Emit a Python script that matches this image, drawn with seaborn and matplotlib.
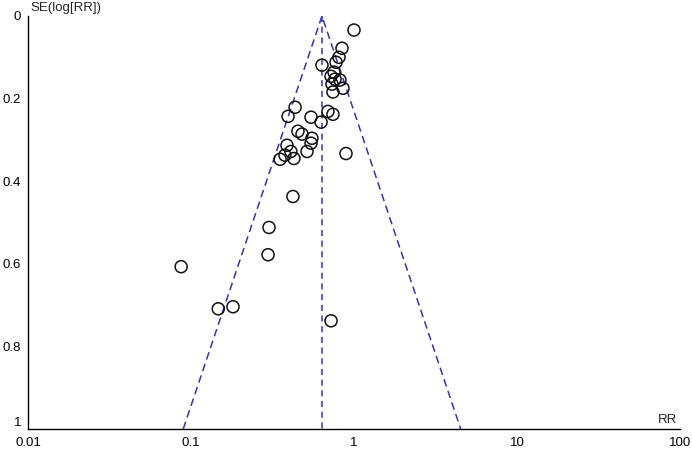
import numpy as np
import matplotlib
matplotlib.use("Agg")
import matplotlib.pyplot as plt
import seaborn as sns
from matplotlib.ticker import FixedLocator, FixedFormatter, NullLocator

sns.set_style("white")
plt.rcParams['font.family'] = ['Liberation Sans', 'DejaVu Sans']

# Study estimates (risk ratios) and standard errors of log(RR)
rr = [1.00, 0.844, 0.809, 0.776, 0.636, 0.754, 0.723, 0.765, 0.820, 0.733,
      0.856, 0.743, 0.435, 0.394, 0.545, 0.628, 0.692, 0.743, 0.453, 0.480,
      0.552, 0.545, 0.388, 0.410, 0.515, 0.428, 0.352, 0.377, 0.893, 0.422,
      0.301, 0.297, 0.087, 0.147, 0.181, 0.723]
se = [0.034, 0.078, 0.100, 0.112, 0.119, 0.136, 0.146, 0.153, 0.155, 0.165,
      0.175, 0.184, 0.221, 0.243, 0.245, 0.257, 0.231, 0.238, 0.279, 0.286,
      0.296, 0.308, 0.313, 0.328, 0.328, 0.345, 0.347, 0.337, 0.333, 0.437,
      0.512, 0.578, 0.607, 0.709, 0.704, 0.738]
pooled_rr = 0.636
se_max = 1.0

x_ticks = [0.01, 0.1, 1, 10, 100]
x_labels = ["0.01", "0.1", "1", "10", "100"]
y_ticks = [0, 0.2, 0.4, 0.6, 0.8, 1]
y_labels = ["0", "0.2", "0.4", "0.6", "0.8", "1"]

fig = plt.figure(figsize=(6.92, 4.5), dpi=100)
ax = fig.add_axes([28/692, 1-429/450, (680-28)/692, (429-16)/450])

line_col = "#3535a5"
lo = pooled_rr * np.exp(-1.96 * se_max)
hi = pooled_rr * np.exp(1.96 * se_max)
ax.plot([lo, pooled_rr, hi], [se_max, 0, se_max], color=line_col, lw=1.1,
        dashes=(5, 3), zorder=1)
ax.plot([pooled_rr, pooled_rr], [0, se_max], color=line_col, lw=1.1,
        dashes=(4, 3), zorder=1)

sns.scatterplot(x=rr, y=se, ax=ax, marker='o', s=75, facecolor='none',
                edgecolor='#111111', linewidth=1.1, zorder=3)

ax.set_xscale('log')
ax.set_xlim(0.01, 100)
ax.set_ylim(1, 0)
ax.xaxis.set_major_locator(FixedLocator(x_ticks))
ax.xaxis.set_major_formatter(FixedFormatter(x_labels))
ax.xaxis.set_minor_locator(NullLocator())
ax.yaxis.set_major_locator(FixedLocator(y_ticks))
ax.yaxis.set_major_formatter(FixedFormatter(y_labels))

for s in ['top', 'right']:
    ax.spines[s].set_visible(False)
for s in ['left', 'bottom']:
    ax.spines[s].set_color('black')
    ax.spines[s].set_linewidth(1.0)
ax.tick_params(axis='both', direction='inout', length=8, width=1.0,
               colors='black', labelsize=9.5)
ax.tick_params(axis='x', pad=1.5)
ax.tick_params(axis='y', pad=1)
for lbl in ax.get_yticklabels():
    if lbl.get_text() == "1":
        lbl.set_verticalalignment('bottom')

ax.text(0.004, 1.005, "SE(log[RR])", transform=ax.transAxes, ha='left',
        va='bottom', fontsize=9.5)
ax.text(0.995, 0.008, "RR", transform=ax.transAxes, ha='right',
        va='bottom', fontsize=9.5)

fig.savefig("out.png", dpi=100)
